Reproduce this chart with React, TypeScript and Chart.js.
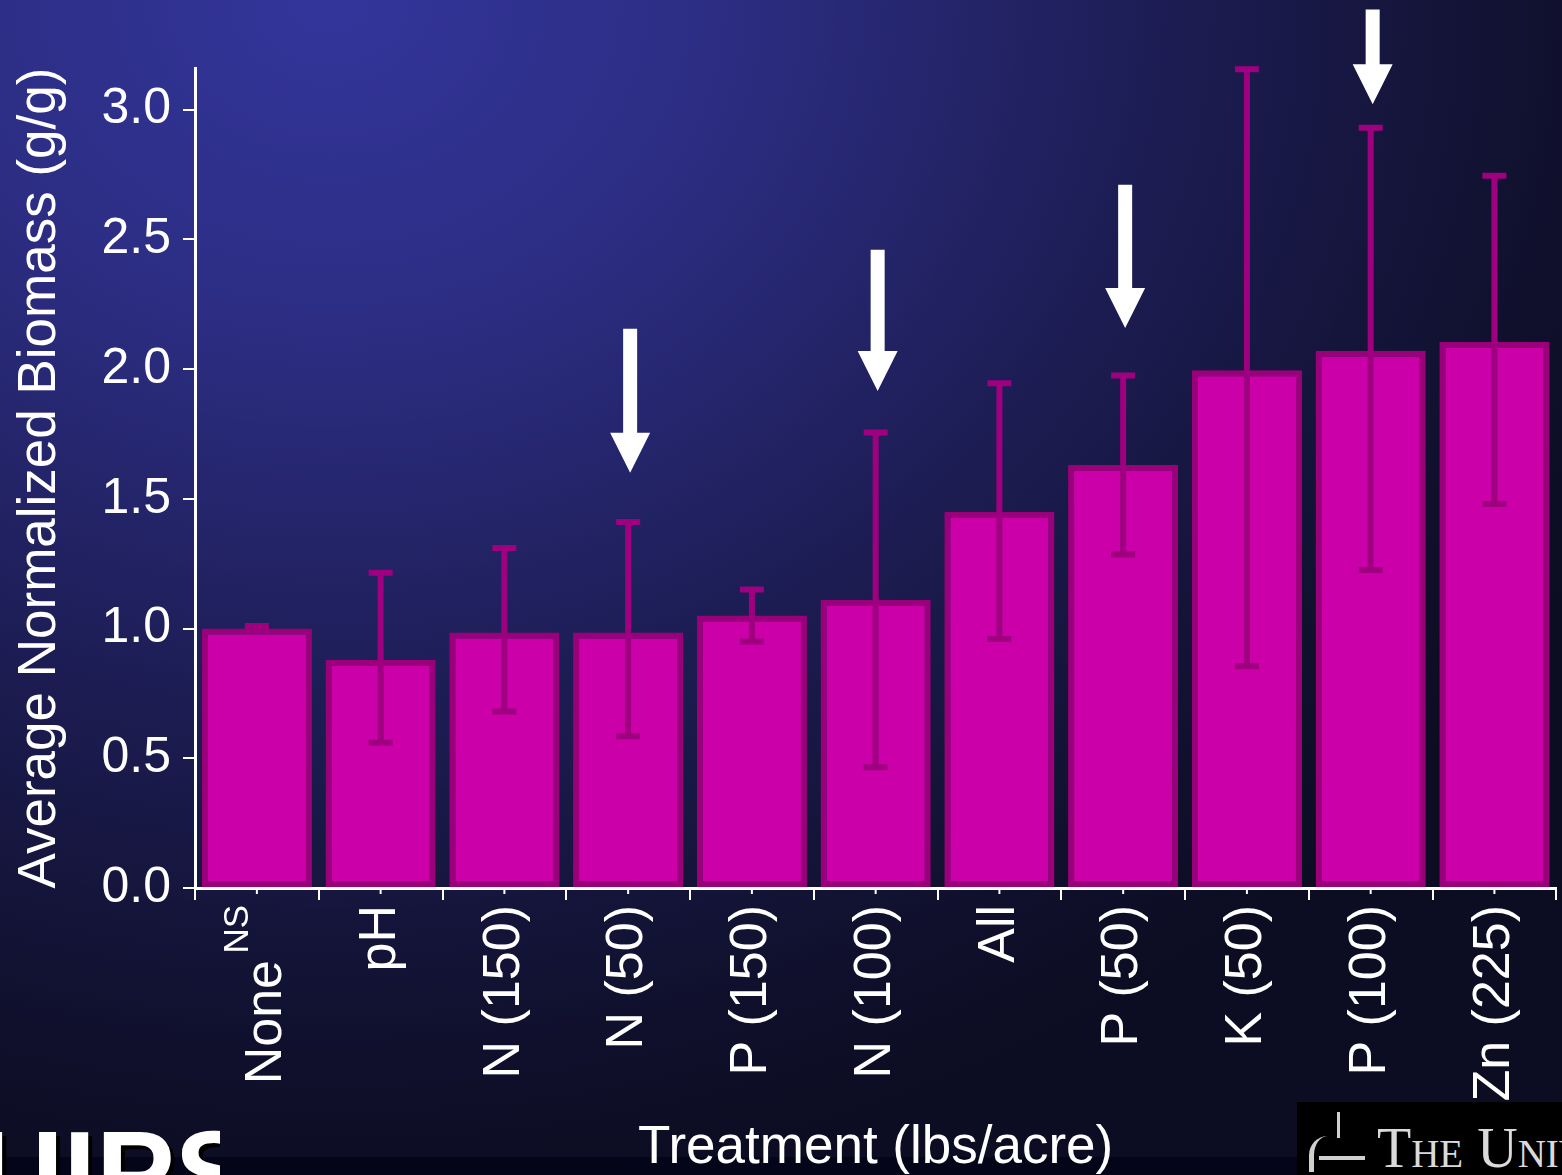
import React, { useEffect, useRef } from "react";
import { Chart, registerables } from "chart.js";
Chart.register(...registerables);

const categories = ["None", "pH", "N (150)", "N (50)", "P (150)", "N (100)", "All", "P (50)", "K (50)", "P (100)", "Zn (225)"];
const meanBiomass = [1.0, 0.88, 0.985, 0.985, 1.05, 1.11, 1.45, 1.63, 1.995, 2.07, 2.105];
const errorUpper = [1.01, 1.215, 1.31, 1.41, 1.15, 1.755, 1.945, 1.975, 3.155, 2.93, 2.745];
const errorLower = [0.99, 0.56, 0.68, 0.585, 0.95, 0.465, 0.96, 1.285, 0.855, 1.225, 1.48];
const yTicks = [0, 0.5, 1.0, 1.5, 2.0, 2.5, 3.0];
const arrowCategory = [3, 5, 7, 9];
const arrowTip = [1.6, 1.915, 2.158, 3.02];
const arrowTail = [2.155, 2.46, 2.71, 3.385];

const FONT = "'Liberation Sans', Arial, Helvetica, sans-serif";

export default function App() {
  const ref = useRef<HTMLCanvasElement>(null);

  useEffect(() => {
    const canvas = ref.current!;
    const overlay = {
      id: "overlay",
      afterDatasetsDraw(chart: any) {
        const ctx = chart.ctx;
        const xs = chart.scales.x;
        const ys = chart.scales.y;
        ctx.save();
        ctx.strokeStyle = "#9e0080";
        ctx.lineWidth = 6;
        ctx.lineCap = "butt";
        for (let i = 0; i < categories.length; i++) {
          const x = xs.getPixelForValue(i);
          const yt = ys.getPixelForValue(errorUpper[i]);
          const yb = ys.getPixelForValue(errorLower[i]);
          ctx.beginPath();
          ctx.moveTo(x, yt);
          ctx.lineTo(x, yb);
          ctx.moveTo(x - 12, yt);
          ctx.lineTo(x + 12, yt);
          ctx.moveTo(x - 12, yb);
          ctx.lineTo(x + 12, yb);
          ctx.stroke();
        }
        ctx.restore();
      },
      afterDraw(chart: any) {
        const ctx = chart.ctx;
        const xs = chart.scales.x;
        const ys = chart.scales.y;
        const bottom = chart.chartArea.bottom;
        ctx.save();
        ctx.strokeStyle = "#ffffff";
        ctx.lineWidth = 2;
        for (let i = 0; i < categories.length; i++) {
          const x = xs.getPixelForValue(i);
          ctx.beginPath();
          ctx.moveTo(x, bottom);
          ctx.lineTo(x, bottom + 6);
          ctx.stroke();
        }
        ctx.fillStyle = "#ffffff";
        for (let k = 0; k < arrowCategory.length; k++) {
          const x = xs.getPixelForValue(arrowCategory[k]) + 2;
          const yTip = ys.getPixelForValue(arrowTip[k]);
          const yTail = ys.getPixelForValue(arrowTail[k]);
          const headLen = 40;
          const headHalf = 20;
          const shaftHalf = 7;
          ctx.beginPath();
          ctx.moveTo(x - shaftHalf, yTail);
          ctx.lineTo(x + shaftHalf, yTail);
          ctx.lineTo(x + shaftHalf, yTip - headLen);
          ctx.lineTo(x + headHalf, yTip - headLen);
          ctx.lineTo(x, yTip);
          ctx.lineTo(x - headHalf, yTip - headLen);
          ctx.lineTo(x - shaftHalf, yTip - headLen);
          ctx.closePath();
          ctx.fill();
        }
        // first category label with superscript
        const xc = xs.getPixelForValue(0);
        ctx.textAlign = "right";
        ctx.textBaseline = "middle";
        ctx.save();
        ctx.translate(xc + 10, bottom + 72);
        ctx.rotate(-Math.PI / 2);
        ctx.font = `52px ${FONT}`;
        ctx.fillText(categories[0], 0, 0);
        ctx.restore();
        ctx.save();
        ctx.translate(xc - 19, bottom + 17);
        ctx.rotate(-Math.PI / 2);
        ctx.font = `35px ${FONT}`;
        ctx.fillText("NS", 0, 0);
        ctx.restore();
        ctx.restore();
      },
    };

    const chart = new Chart(canvas, {
      type: "bar",
      data: {
        labels: categories,
        datasets: [
          {
            data: meanBiomass,
            backgroundColor: "#cc00a8",
            borderColor: "#99007a",
            borderWidth: 6,
            borderSkipped: false,
            barPercentage: 0.89,
            categoryPercentage: 1,
          },
        ],
      },
      options: {
        responsive: false,
        animation: false,
        devicePixelRatio: 1,
        layout: { padding: { left: 0, right: 4, top: 68, bottom: 0 } },
        plugins: { legend: { display: false }, tooltip: { enabled: false } },
        scales: {
          x: {
            grid: {
              drawOnChartArea: false,
              drawTicks: true,
              tickLength: 12,
              color: "#ffffff",
              tickColor: "#ffffff",
              lineWidth: 2,
              tickWidth: 2,
              offset: true,
            },
            border: { display: true, color: "#ffffff", width: 3 },
            ticks: {
              color: "#ffffff",
              font: { family: FONT, size: 52 },
              minRotation: 90,
              maxRotation: 90,
              autoSkip: false,
              padding: 5,
              callback: (_v: any, i: number) => (i === 0 ? "" : categories[i]),
            },
            title: {
              display: true,
              text: "Treatment (lbs/acre)",
              color: "#ffffff",
              font: { family: FONT, size: 53, lineHeight: 1 },
              padding: 0,
            },
            afterFit: (s: any) => {
              s.height = 287;
            },
          },
          y: {
            min: 0,
            max: 3.16,
            grid: {
              drawOnChartArea: false,
              drawTicks: true,
              tickLength: 12,
              color: "#ffffff",
              tickColor: "#ffffff",
              lineWidth: 2,
              tickWidth: 2,
            },
            border: { display: true, color: "#ffffff", width: 3 },
            ticks: {
              color: "#ffffff",
              font: { family: FONT, size: 50 },
              padding: 12,
              callback: (v: any) => Number(v).toFixed(1),
            },
            afterBuildTicks: (s: any) => {
              s.ticks = yTicks.map((v) => ({ value: v }));
            },
            title: {
              display: true,
              text: "Average Normalized Biomass (g/g)",
              color: "#ffffff",
              font: { family: FONT, size: 53, lineHeight: 1 },
              padding: { top: 14, bottom: 0 },
            },
            afterFit: (s: any) => {
              s.width = 195;
            },
          },
        },
      },
      plugins: [overlay],
    } as any);
    return () => chart.destroy();
  }, []);

  return (
    <div
      style={{
        position: "fixed",
        left: 0,
        top: 0,
        width: 1562,
        height: 1175,
        overflow: "hidden",
        background:
          "radial-gradient(ellipse 1420px 1200px at 330px 0px, #33359b 0%, #2c2d82 28%, #1d1d55 58%, #111130 85%, #0c0c22 100%)",
      }}
    >
      <div style={{ position: "absolute", left: 0, top: 1157, width: 1562, height: 18, background: "#05051a" }} />
      <canvas ref={ref} width={1562} height={1175} style={{ position: "absolute", left: 0, top: 0 }} />
      <div style={{ position: "absolute", left: 0, top: 1128, width: 220, height: 47, overflow: "hidden" }}>
        <div
          style={{
            position: "absolute",
            left: -22,
            top: -14,
            fontFamily: FONT,
            fontWeight: 900,
            fontSize: 118,
            lineHeight: 1,
            color: "#ffffff",
            textShadow: "4px 4px 0 #000",
            whiteSpace: "nowrap",
          }}
        >
          UIPS
        </div>
      </div>
      <div
        style={{
          position: "absolute",
          left: 1297,
          top: 1102,
          width: 265,
          height: 73,
          overflow: "hidden",
          background: "#000000",
        }}
      >
        <div style={{ position: "absolute", left: 40, top: 10, width: 3, height: 26, background: "#d0d0d0" }} />
        <div style={{ position: "absolute", left: 22, top: 54, width: 46, height: 4, background: "#d0d0d0" }} />
        <div style={{ position: "absolute", left: 12, top: 34, width: 14, height: 36, borderLeft: "5px solid #d0d0d0", borderTopLeftRadius: 20 }} />
        <div
          style={{
            position: "absolute",
            left: 80,
            top: 18,
            fontFamily: "'Liberation Serif', 'Times New Roman', serif",
            fontVariant: "small-caps",
            fontSize: 56,
            lineHeight: 1,
            color: "#dadada",
            whiteSpace: "nowrap",
          }}
        >
          The University
        </div>
      </div>
    </div>
  );
}
